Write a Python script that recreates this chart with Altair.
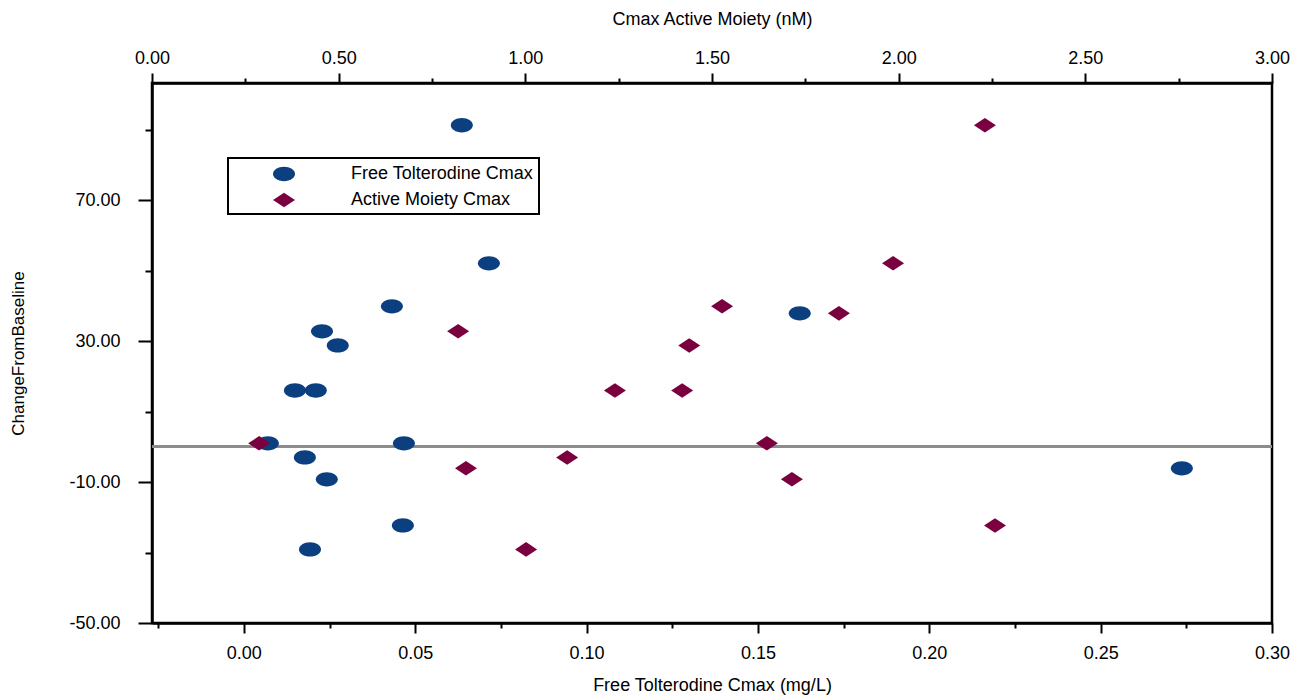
import altair as alt
import pandas as pd

# Change from baseline (shared y) for each subject
change_from_baseline = [91.3, 52.1, 39.9, 37.9, 32.8, 28.8, 16.0, 16.0, 1.0, 1.0, -3.0, -6.1, -9.2, -22.3, -29.1]
# Free tolterodine Cmax (mg/L) -> bottom axis
free_cmax = [0.0636, 0.0715, 0.0432, 0.1622, 0.0228, 0.0274, 0.0149, 0.0210, 0.0070, 0.0467, 0.0178, 0.2737, 0.0242, 0.0464, 0.0193]
# Active moiety Cmax (nM) -> top axis
active_cmax = [2.231, 1.985, 1.527, 1.840, 0.820, 1.439, 1.240, 1.420, 0.287, 1.647, 1.112, 0.841, 1.714, 2.258, 1.002]

series_names = ["Free Tolterodine Cmax", "Active Moiety Cmax"]
series_colors = ["#0b3f7f", "#7a0040"]

bottom_ticks = [-0.025, 0.0, 0.025, 0.05, 0.075, 0.1, 0.125, 0.15, 0.175, 0.2, 0.225, 0.25, 0.275, 0.3]
top_ticks = [0.0, 0.25, 0.5, 0.75, 1.0, 1.25, 1.5, 1.75, 2.0, 2.25, 2.5, 2.75, 3.0]
y_ticks = [-50, -30, -10, 10, 30, 50, 70, 90]

ellipse = ("M -1 0 C -1 -0.359 -0.552 -0.65 0 -0.65 C 0.552 -0.65 1 -0.359 1 0 "
           "C 1 0.359 0.552 0.65 0 0.65 C -0.552 0.65 -1 0.359 -1 0 Z")
diamond = "M 0 -0.66 L 1 0 L 0 0.66 L -1 0 Z"

rows = []
for c, f, a in zip(change_from_baseline, free_cmax, active_cmax):
    rows.append({"series": series_names[0], "cmax": f, "change": c})
    rows.append({"series": series_names[1], "cmax": a, "change": c})
df = pd.DataFrame(rows)

FONT = "Liberation Sans"

y_scale = alt.Scale(domain=[-50, 103.3], nice=False, zero=False)
y_axis = alt.Axis(
    values=y_ticks,
    labelExpr="(datum.value + 50) % 40 == 0 ? (datum.value < 0 ? '-' : '') + format(abs(datum.value), '.2f') : ''",
    tickSize={"condition": {"test": "(datum.value + 50) % 40 == 0", "value": 14}, "value": 7},
    tickWidth=2, tickColor="black", domain=True, domainColor="black", domainWidth=2.5,
    grid=False, labelFont=FONT, labelFontSize=18, labelColor="black", labelPadding=18,
    titleFont=FONT, titleFontSize=17, titleFontWeight="normal",
    titleColor="black", titleX=-134, titleY=270, titleAngle=270,
    titleAlign="center", titleBaseline="middle",
)

color = alt.Color("series:N", title=None,
                  scale=alt.Scale(domain=series_names, range=series_colors),
                  legend=alt.Legend(orient="none", legendX=76, legendY=75))
shape = alt.Shape("series:N", title=None,
                  scale=alt.Scale(domain=series_names, range=[ellipse, diamond]),
                  legend=alt.Legend(orient="none", legendX=76, legendY=75))

base = alt.Chart(df)

rule = base.mark_rule(color="#8c8c8c", strokeWidth=2.5).encode(y=alt.datum(0, scale=y_scale))

circles = base.transform_filter(alt.datum.series == series_names[0]).mark_point(
    filled=True, size=484, opacity=1
).encode(
    x=alt.X("cmax:Q", scale=alt.Scale(domain=[-0.0268, 0.30], nice=False, zero=False),
            axis=alt.Axis(
                orient="bottom", values=bottom_ticks, title="Free Tolterodine Cmax (mg/L)",
                labelExpr="abs(round(datum.value*40)) % 2 == 0 ? format(datum.value, '.2f') : ''",
                tickSize={"condition": {"test": "abs(round(datum.value*40)) % 2 == 0", "value": 10}, "value": 5},
                tickWidth=2, tickColor="black", domainColor="black", domainWidth=2.5, grid=False,
                labelFont=FONT, labelFontSize=18, labelColor="black", labelPadding=11,
                labelFlush=False,
                titleFont=FONT, titleFontSize=18, titleFontWeight="normal", titleColor="black",
                titlePadding=14)),
    y=alt.Y("change:Q", scale=y_scale, axis=y_axis, title="ChangeFromBaseline"),
    color=color,
    shape=shape,
)

diamonds = base.transform_filter(alt.datum.series == series_names[1]).mark_point(
    filled=True, size=484, opacity=1
).encode(
    x=alt.X("cmax:Q", scale=alt.Scale(domain=[0, 3.0], nice=False, zero=False),
            axis=alt.Axis(
                orient="top", values=top_ticks, title="Cmax Active Moiety (nM)",
                labelExpr="round(datum.value*4) % 2 == 0 ? format(datum.value, '.2f') : ''",
                tickSize={"condition": {"test": "round(datum.value*4) % 2 == 0", "value": 10}, "value": 5},
                tickWidth=2, tickColor="black", domainColor="black", domainWidth=2.5, grid=False,
                labelFont=FONT, labelFontSize=18, labelColor="black", labelPadding=6,
                labelFlush=False,
                titleFont=FONT, titleFontSize=18, titleFontWeight="normal", titleColor="black",
                titlePadding=21)),
    y=alt.Y("change:Q", scale=y_scale, axis=y_axis, title="ChangeFromBaseline"),
    color=color,
    shape=shape,
)

chart = alt.layer(rule, circles, diamonds).resolve_scale(x="independent").properties(
    width=1120, height=540,
    autosize=alt.AutoSizeParams(type="none"),
    padding={"left": 152, "top": 83, "right": 38, "bottom": 73},
).configure_view(
    stroke="black", strokeWidth=2.5
).configure_legend(
    strokeColor="black", strokeWidth=2, fillColor="white", padding=5,
    labelFont=FONT, labelFontSize=18, labelColor="black", labelOffset=56,
    symbolSize=484, symbolOffset=40, rowPadding=6, symbolStrokeWidth=0, labelLimit=500,
)

chart.save("out.html", embed_options={"renderer": "svg", "actions": False})
